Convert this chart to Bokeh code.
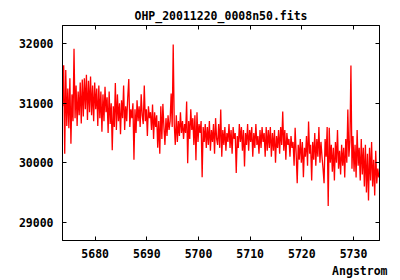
import numpy as np
from bokeh.plotting import figure
from bokeh.models import LinearAxis, FixedTicker, Range1d, Title
from bokeh.embed import file_html
from bokeh.resources import INLINE

title_text = "OHP_20011220_0008n50.fits"
x_label_text = "Angstrom"
x_ticks = [5680, 5690, 5700, 5710, 5720, 5730]
y_ticks = [29000, 30000, 31000, 32000]

lambda_start = 5673.7
lambda_step = 0.2
flux = [
    30950, 31640, 30150, 31560, 30620, 31250, 30580, 31420, 30320, 31150,
    30700, 31920, 30750, 31300, 30620, 31200, 30800, 31350, 30660, 31400,
    30780, 31420, 30900, 31480, 30720, 31380, 30850, 31450, 30800, 31300,
    30700, 31350, 30900, 31250, 30620, 31300, 30750, 31200, 30520, 31150,
    30700, 31280, 30850, 31100, 30500, 31200, 30650, 31000, 30210, 30950,
    30600, 31340, 30550, 31150, 30700, 31000, 30480, 31050, 30750, 31300,
    30550, 30950, 30700, 31100, 31410, 30600, 30900, 30750, 31000, 30050,
    30900, 30500, 31050, 30700, 30950, 30600, 31150, 30800, 30650, 31300,
    30700, 30900, 30450, 30950, 30750, 30850, 30550, 30980, 30400, 30850,
    30600, 30800, 30250, 30700, 30150, 30950, 30400, 30990, 30600, 30300,
    30750, 30450, 30800, 30550, 30700, 31165, 30600, 31990, 30650, 30300,
    30800, 30350, 30700, 30450, 30850, 30500, 30700, 30400, 30650, 30500,
    31030, 29990, 30700, 30400, 30900, 30550, 30750, 30300, 30800, 30040,
    30850, 30350, 30650, 30500, 30700, 29757, 30600, 30350, 30650, 30250,
    30600, 30300, 30700, 30200, 30550, 30350, 30650, 30150, 30750, 30400,
    30300, 30650, 30250, 30895, 30100, 30550, 30300, 30600, 30200, 30500,
    30350, 30650, 30250, 30550, 30150, 30600, 30400, 30500, 29825, 30450,
    30250, 30650, 30350, 30600, 30200, 30550, 29935, 30500, 30300, 30650,
    30200, 30550, 30350, 30600, 30100, 30500, 30250, 30650, 30300, 30450,
    30150, 30550, 30250, 30600, 30350, 30500, 30100, 30600, 30200, 30550,
    30250, 30600, 30100, 30500, 30200, 30550, 30000, 30450, 30250, 30550,
    30150, 30600, 30300, 30860, 30200, 30550, 30050, 30500, 30300, 30400,
    30100, 30450, 30250, 30350, 29950, 30587, 30150, 29655, 30300, 30050,
    30400, 30000, 30350, 29757, 30250, 30100, 30450, 29950, 30695, 30150,
    30300, 29700, 30350, 30050, 30500, 29950, 30400, 30100, 30600, 30000,
    30350, 30100, 29900, 29655, 30400, 30100, 30600, 29270, 30590, 30000,
    30300, 29850, 30250, 29700, 30350, 30000, 30550, 29900, 30200, 29800,
    30300, 29950, 30250, 29750, 30400, 30000, 30895, 30100, 30350, 31635,
    29900, 30450, 29850, 30300, 29750, 30550, 29950, 30250, 29700, 30400,
    29800, 30250, 29600, 30300, 29500, 30150, 29365, 30250, 29700, 30350,
    29600, 30050, 29450, 30200, 29650, 29900, 29750,
]

wavelength = lambda_start + lambda_step * np.arange(len(flux))

X0, X1 = 5673.67, 5735.03
Y0, Y1 = 28690, 32310

FONT = "DejaVu Sans Mono"
FS = "11.5px"

p = figure(width=400, height=280, output_backend="svg", toolbar_location=None,
           x_range=Range1d(X0, X1), y_range=Range1d(Y0, Y1),
           min_border_left=62, min_border_right=21, min_border_top=25,
           min_border_bottom=40)
p.background_fill_color = "white"
p.border_fill_color = "white"
p.outline_line_color = "black"
p.outline_line_width = 1
p.xgrid.visible = False
p.ygrid.visible = False

p.title.text = title_text
p.title.align = "center"
p.title.text_font = FONT
p.title.text_font_style = "bold"
p.title.text_font_size = FS
p.title.text_color = "black"
p.title.standoff = 6

p.line(wavelength, flux, line_color="#ff0000", line_width=1.3)

def style_axis(ax, ticks, labels=True):
    ax.ticker = FixedTicker(ticks=ticks)
    ax.major_tick_in = 4
    ax.major_tick_out = 0
    ax.minor_tick_line_color = None
    ax.axis_line_color = "black"
    ax.major_tick_line_color = "black"
    ax.major_label_text_font = FONT
    ax.major_label_text_font_style = "bold"
    if labels:
        ax.major_label_text_font_size = FS
        ax.major_label_text_color = "black"
    else:
        ax.major_label_text_font_size = "1px"
        ax.major_label_text_color = None
        ax.major_label_standoff = 0

style_axis(p.xaxis[0], x_ticks)
p.xaxis[0].major_label_standoff = 8
style_axis(p.yaxis[0], y_ticks)
p.yaxis[0].major_label_standoff = 9

top = LinearAxis()
style_axis(top, x_ticks, labels=False)
p.add_layout(top, "above")
right = LinearAxis()
style_axis(right, y_ticks, labels=False)
p.add_layout(right, "right")

xlab = Title(text=x_label_text, align="right", offset=-8, standoff=2,
             text_font=FONT, text_font_style="bold", text_font_size=FS,
             text_color="black")
p.add_layout(xlab, "below")

open("out.html", "w").write(file_html(p, INLINE))
